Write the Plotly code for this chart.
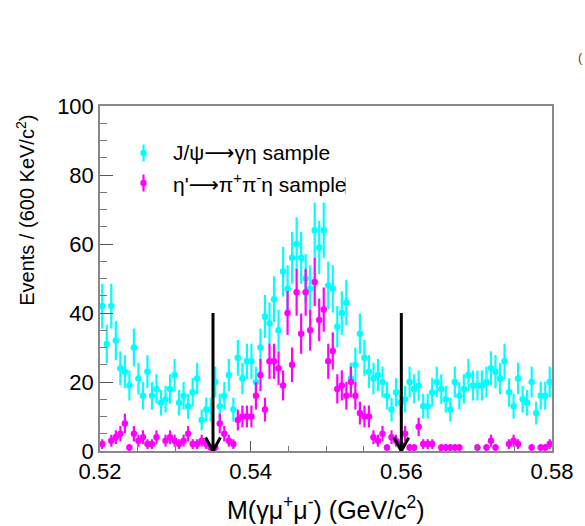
import numpy as np
import plotly.graph_objects as go

# ---- data -------------------------------------------------------------
BIN_LOW = 0.52
BIN_WIDTH = 0.0006          # 600 KeV/c^2
N_BINS = 100

jpsi_counts = [42, 31, 42, 32, 24, 23, 19, 30, 21, 16,
               23, 16, 18, 14, 15, 18, 22, 14, 16, 13,
               17, 21, 9, 12, 12, 20, 13, 16, 22, 12,
               27, 21, 26, 26, 20, 30, 39, 37, 44, 35,
               52, 47, 56, 60, 56, 50, 47, 64, 59, 64,
               48, 47, 36, 40, 43, 21, 25, 34, 27, 23,
               21, 22, 20, 16, 12, 17, 14, 15, 20, 18,
               19, 13, 13, 17, 20, 18, 15, 12, 20, 16,
               18, 22, 19, 19, 19, 20, 24, 23, 21, 26,
               17, 13, 21, 15, 14, 20, 11, 16, 16, 20]

etap_counts = [2, None, 3, 4, 5, 8, 1, 5, 3, 4,
               2, 2, 4, None, 3, 4, 3, 2, 3, 5,
               2, 2, 3, 2, 1, 1, 8, 5, 3, 2,
               9, 10, 10, 10, 16, 22, 12, 26, 26, 24,
               19, 40, 25, 46, 34, 46, 35, 49, 38, 41,
               26, 29, 18, 19, 16, 20, 16, 11, 10, 10,
               4, 3, 5, 1, 4, 3, 2, 5, 1, 1,
               7, 2, 2, 2, None, 1, 1, 1, 1, 1,
               None, None, None, 1, None, 1, 3, 1, None, None,
               2, 3, 2, None, None, 1, None, 1, 1, 2]

cut_positions = [0.535, 0.56]
cut_arrow_top = 40

x_ticks = [0.52, 0.54, 0.56, 0.58]
y_ticks = [0, 20, 40, 60, 80, 100]

ARROW = "<span style=\"font-family:'DejaVu Sans'\">\u27f6</span>"
legend_labels = ["J/\u03c8" + ARROW + "\u03b3\u03b7 sample",
                 "\u03b7'" + ARROW + "\u03c0<sup>+</sup>\u03c0<sup>-</sup>\u03b7 sample"]
x_title = "M(\u03b3\u03bc<sup>+</sup>\u03bc<sup>-</sup>) (GeV/c<sup>2</sup>)"
y_title = "Events / (600 KeV/c<sup>2</sup>)"

CYAN = "#00FFFF"
MAGENTA = "#FF00FF"
FONT = "Liberation Sans, Arial, Helvetica, sans-serif"

# ---- build ------------------------------------------------------------
centers = BIN_LOW + BIN_WIDTH * (np.arange(N_BINS) + 0.5)


def errs(vals):
    return [None if v is None else float(np.sqrt(v)) for v in vals]


fig = go.Figure()
for vals, col in ((jpsi_counts, CYAN), (etap_counts, MAGENTA)):
    fig.add_trace(go.Scatter(
        x=centers, y=vals, mode="markers",
        marker=dict(color=col, size=6.5),
        error_y=dict(type="data", array=errs(vals), color=col,
                     thickness=2.2, width=0, visible=True),
        showlegend=False, hoverinfo="skip"))

shapes = []
dx = 0.00098
dy = 3.9
for c in cut_positions:
    shapes.append(dict(type="line", xref="x", yref="y", x0=c, x1=c,
                       y0=cut_arrow_top, y1=0, layer="above",
                       line=dict(color="black", width=3)))
    shapes.append(dict(type="path", xref="x", yref="y", layer="above",
                       path=f"M {c-dx},{dy} L {c},0 L {c+dx},{dy}",
                       line=dict(color="black", width=3)))

# legend (manual, ROOT style)
W, H = 457.0, 345.0
leg_x = (144 - 100) / W
leg_ys = [1 - (153 - 106) / H, 1 - (183 - 106) / H]
annotations = []
for lab, col, ly in zip(legend_labels, (CYAN, MAGENTA), leg_ys):
    shapes.append(dict(type="line", xref="paper", yref="paper",
                       xsizemode="pixel", ysizemode="pixel",
                       xanchor=leg_x, yanchor=ly, x0=0, x1=0, y0=-8.5, y1=8.5,
                       line=dict(color=col, width=2.2)))
    shapes.append(dict(type="circle", xref="paper", yref="paper",
                       xsizemode="pixel", ysizemode="pixel",
                       xanchor=leg_x, yanchor=ly, x0=-3.2, x1=3.2, y0=-3.2, y1=3.2,
                       fillcolor=col, line=dict(color=col, width=0)))
    annotations.append(dict(text=lab, xref="paper", yref="paper",
                            x=(172 - 100) / W, y=ly, xanchor="left",
                            yanchor="middle", showarrow=False,
                            font=dict(family=FONT, size=21, color="black")))
shapes.append(dict(type="line", xref="paper", yref="paper",
                   x0=(348 - 100) / W, x1=(348 - 100) / W,
                   y0=1 - (177 - 106) / H, y1=1 - (194 - 106) / H,
                   line=dict(color="#aaaaaa", width=1)))

annotations.append(dict(text=x_title, xref="paper", yref="paper",
                        x=(329 - 100) / W, y=(451 - 508) / H,
                        xanchor="center", yanchor="middle", showarrow=False,
                        font=dict(family=FONT, size=25, color="black")))
annotations.append(dict(text=y_title, xref="paper", yref="paper",
                        x=(24 - 100) / W, y=1 - (210 - 106) / H,
                        xanchor="center", yanchor="middle", showarrow=False,
                        textangle=-90,
                        font=dict(family=FONT, size=20, color="black")))
annotations.append(dict(text="(", xref="paper", yref="paper",
                        x=(581 - 100) / W, y=1 + (106 - 58) / H,
                        xanchor="left", yanchor="middle", showarrow=False,
                        font=dict(family=FONT, size=13, color="#7a3a00")))

fig.update_layout(
    width=585, height=526,
    margin=dict(l=100, r=28, t=106, b=75),
    paper_bgcolor="white", plot_bgcolor="white",
    shapes=shapes, annotations=annotations,
    showlegend=False,
)
fig.update_xaxes(range=[0.52, 0.58], tickvals=x_ticks, tickformat=".2f",
                 ticks="inside", ticklen=10, tickwidth=1, tickcolor="#555",
                 minor=dict(dtick=0.005, ticks="inside", ticklen=5,
                            tickcolor="#777", tickwidth=1),
                 showgrid=False, zeroline=False, showline=True, mirror=True,
                 linecolor="#888", linewidth=1.5,
                 tickfont=dict(family=FONT, size=22, color="black"))
fig.update_yaxes(range=[0, 100], tickvals=y_ticks,
                 ticks="inside", ticklen=13, tickwidth=1, tickcolor="#555",
                 minor=dict(dtick=5, ticks="inside", ticklen=7,
                            tickcolor="#777", tickwidth=1),
                 showgrid=False, zeroline=False, showline=True, mirror=True,
                 linecolor="#888", linewidth=1.5,
                 tickfont=dict(family=FONT, size=22, color="black"))

fig.write_html("out.html")
